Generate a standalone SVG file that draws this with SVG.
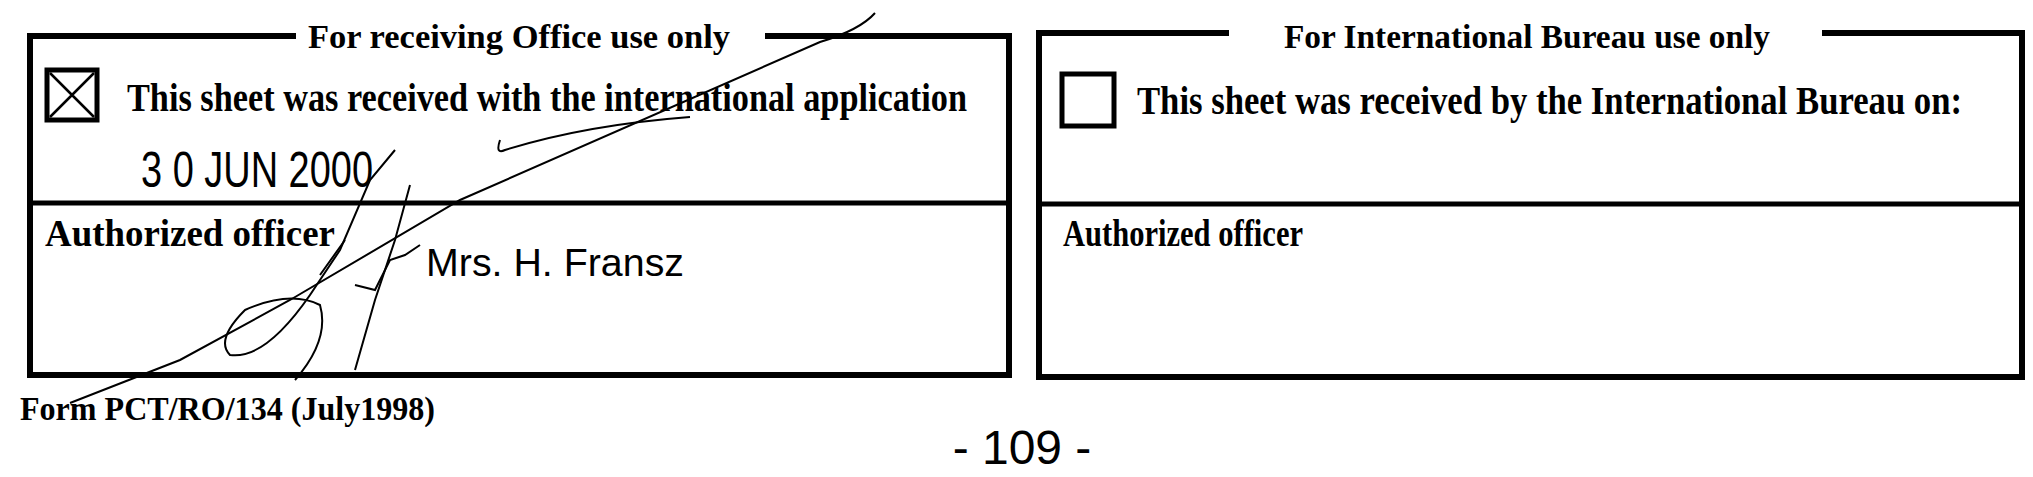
<svg xmlns="http://www.w3.org/2000/svg" width="2033" height="477" viewBox="0 0 2033 477">
<style>
.b{font-family:"Liberation Serif",serif;font-weight:bold;fill:#000}
.box{fill:none;stroke:#000;stroke-width:6}
.sig{fill:none;stroke:#000;stroke-width:2}
</style>
<rect width="2033" height="477" fill="#fff"/>
<g id="ro-box">
<path class="box" d="M296 36 H30 V375 H1009 V36 H765"/>
<line x1="30" y1="203" x2="1009" y2="203" stroke="#000" stroke-width="5"/>
<text class="b" x="519" y="48" font-size="33" text-anchor="middle" textLength="422" lengthAdjust="spacingAndGlyphs">For receiving Office use only</text>
<rect x="47" y="70" width="50" height="50" fill="none" stroke="#000" stroke-width="5"/>
<path d="M50 73 L94 117 M94 73 L50 117" stroke="#000" stroke-width="2.5"/>
<text class="b" x="127" y="111" font-size="40" textLength="840" lengthAdjust="spacingAndGlyphs">This sheet was received with the international application</text>
<text x="141" y="187" font-family="Liberation Sans,sans-serif" font-size="50" textLength="232" lengthAdjust="spacingAndGlyphs">3 0 JUN 2000</text>
<text class="b" x="45" y="246" font-size="37" textLength="290" lengthAdjust="spacingAndGlyphs">Authorized officer</text>
<text x="426" y="276" font-family="Liberation Sans,sans-serif" font-size="38" textLength="258" lengthAdjust="spacingAndGlyphs">Mrs. H. Fransz</text>
</g>
<g id="ib-box">
<path class="box" d="M1229 33 H1039 V377 H2022 V33 H1822"/>
<line x1="1039" y1="204" x2="2022" y2="204" stroke="#000" stroke-width="5"/>
<text class="b" x="1527" y="48" font-size="33" text-anchor="middle" textLength="486" lengthAdjust="spacingAndGlyphs">For International Bureau use only</text>
<rect x="1062" y="74" width="52" height="52" fill="none" stroke="#000" stroke-width="5"/>
<text class="b" x="1137" y="114" font-size="40" textLength="825" lengthAdjust="spacingAndGlyphs">This sheet was received by the International Bureau on:</text>
<text class="b" x="1063" y="246" font-size="37" textLength="240" lengthAdjust="spacingAndGlyphs">Authorized officer</text>
</g>
<text class="b" x="20" y="420" font-size="34" textLength="415" lengthAdjust="spacingAndGlyphs">Form PCT/RO/134 (July1998)</text>
<text x="1022" y="464" font-family="Liberation Sans,sans-serif" font-size="48" text-anchor="middle">- 109 -</text>
<g id="signature">
<path class="sig" d="M875 13 Q860 30 820 42 L460 200 L290 300 L180 360 L70 403"/>
<path class="sig" d="M690 117 Q585 125 505 150 Q495 155 500 140"/>
<path class="sig" d="M395 150 L370 180 L340 250 L310 295 Q265 360 230 355 Q215 340 245 310 Q290 290 320 305 Q330 340 295 380"/>
<path class="sig" d="M410 185 L395 240 L375 300 L355 370"/>
<path class="sig" d="M345 240 L320 275 M355 285 L375 290 L390 260 L405 255 L420 245"/>
</g>
</svg>
